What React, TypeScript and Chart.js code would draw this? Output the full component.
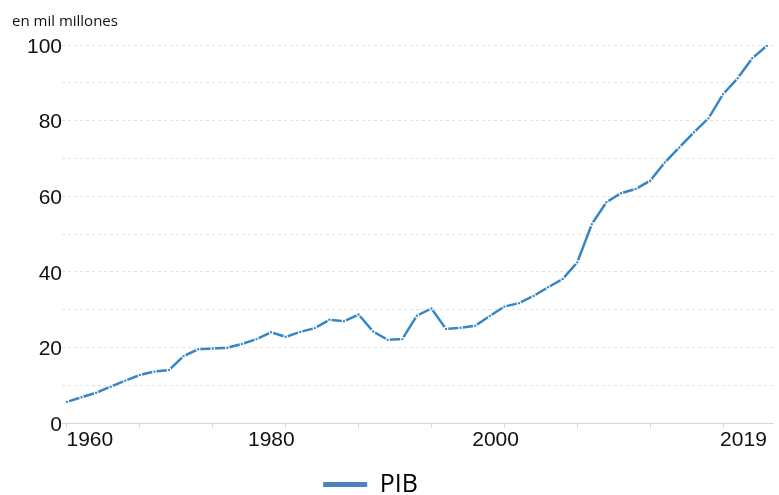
import React, { useEffect, useRef } from 'react';
import { Chart, registerables } from 'chart.js';

Chart.register(...registerables);

// Series values (en mil millones), one per period, left to right
const pib = [
  5.6, 6.8, 8.0, 9.6, 11.2, 12.7, 13.6, 14.0, 17.7, 19.5,
  19.7, 19.9, 20.9, 22.2, 24.0, 22.8, 24.1, 25.1, 27.3, 26.9,
  28.7, 24.2, 22.0, 22.2, 28.4, 30.3, 24.9, 25.2, 25.7, 28.3,
  30.8, 31.7, 33.6, 35.9, 38.1, 42.5, 52.6, 58.4, 60.8, 61.9,
  64.1, 68.9, 72.9, 76.9, 80.6, 87.0, 91.2, 96.5, 99.8,
];
const xTickLabels = ['1960', '1980', '2000', '2019'];
const xTickAt = [1.57, 14.02, 29.4, 46.4];
const xMarkStep = 5;
const seriesName = 'PIB';
const unitLabel = 'en mil millones';
const yMin = 0;
const yMax = 100;
const yStep = 10;
const yLabelEvery = 20;

const LINE = '#3786c3';
const LEGEND = '#4f81bd';
const AXIS_FONT = { family: "'Liberation Sans', Arial, sans-serif", size: 21 };

export default function App() {
  const ref = useRef<HTMLCanvasElement>(null);

  useEffect(() => {
    if (!ref.current) return;
    const n = pib.length;
    const xMinV = -0.34;
    const xMaxV = n - 1 + 0.48;
    const legendShift = {
      id: 'legendShift',
      afterLayout(chart: any) {
        if (chart.legend) chart.legend.right -= 50;
      },
    };
    const chart = new Chart(ref.current, {
      type: 'line',
      data: {
        datasets: [
          {
            label: seriesName,
            data: pib.map((v, i) => ({ x: i, y: v })),
            borderColor: LINE,
            backgroundColor: LEGEND,
            borderWidth: 2.5,
            pointRadius: 1.8,
            pointBorderWidth: 1.2,
            pointBorderColor: '#ffffff',
            pointBackgroundColor: LINE,
            tension: 0,
            xAxisID: 'x',
            yAxisID: 'y',
          },
        ],
      },
      options: {
        animation: false,
        responsive: false,
        layout: { padding: { left: 12, right: 0, top: 0, bottom: 0 } },
        plugins: {
          title: {
            display: true,
            text: unitLabel,
            align: 'start',
            color: '#111111',
            font: { family: "'Open Sans', sans-serif", size: 15, weight: 'normal' },
            padding: { top: 13, bottom: 14 },
          },
          legend: {
            position: 'bottom',
            labels: {
              boxWidth: 44,
              boxHeight: 5,
              color: '#222222',
              font: { family: "'Open Sans', sans-serif", size: 25 },
              padding: 10,
              generateLabels: () => [
                {
                  text: seriesName,
                  fillStyle: LEGEND,
                  strokeStyle: LEGEND,
                  lineWidth: 0,
                  hidden: false,
                  datasetIndex: 0,
                },
              ],
            },
          },
          tooltip: { enabled: false },
        },
        scales: {
          x: {
            type: 'linear',
            position: 'bottom',
            weight: 0,
            min: xMinV,
            max: xMaxV,
            afterBuildTicks: (s: any) => {
              const t = [];
              for (let v = 0; v < n; v += xMarkStep) t.push({ value: v });
              s.ticks = t;
            },
            afterFit: (s: any) => {
              s.height = 5;
            },
            ticks: { display: false },
            grid: {
              drawOnChartArea: false,
              drawTicks: true,
              tickLength: 5,
              tickColor: '#d9d9d9',
              color: '#d9d9d9',
            },
            border: { display: false },
          },
          xl: {
            type: 'linear',
            position: 'bottom',
            weight: 1,
            min: xMinV,
            max: xMaxV,
            afterBuildTicks: (s: any) => {
              s.ticks = xTickAt.map((v) => ({ value: v }));
            },
            afterFit: (s: any) => {
              s.height = 34;
            },
            ticks: {
              callback: (_v: any, i: number) => xTickLabels[i],
              autoSkip: false,
              maxRotation: 0,
              padding: 0,
              color: '#111111',
              font: AXIS_FONT,
            },
            grid: { display: false, drawTicks: false, tickLength: 0 },
            border: { display: false },
          },
          y: {
            min: yMin,
            max: yMax,
            afterFit: (s: any) => {
              s.width = 50;
            },
            ticks: {
              stepSize: yStep,
              callback: (v: any) => (Number(v) % yLabelEvery === 0 ? String(v) : ''),
              padding: 0,
              labelOffset: 2,
              color: '#111111',
              font: AXIS_FONT,
            },
            grid: {
              color: (c: any) => (c.tick && c.tick.value === 0 ? '#d6d6d6' : '#e3e3e3'),
              drawTicks: false,
              lineWidth: 1,
            },
            border: {
              display: false,
              dash: (c: any) => (c.tick && c.tick.value === 0 ? [] : [3, 3]),
            },
          },
        },
      } as any,
      plugins: [legendShift],
    });
    return () => chart.destroy();
  }, []);

  return (
    <div
      style={{
        position: 'fixed',
        left: 0,
        top: 0,
        width: 779,
        height: 495,
        overflow: 'hidden',
        background: '#ffffff',
      }}
    >
      <canvas ref={ref} width={779} height={507} style={{ display: 'block' }} />
    </div>
  );
}
